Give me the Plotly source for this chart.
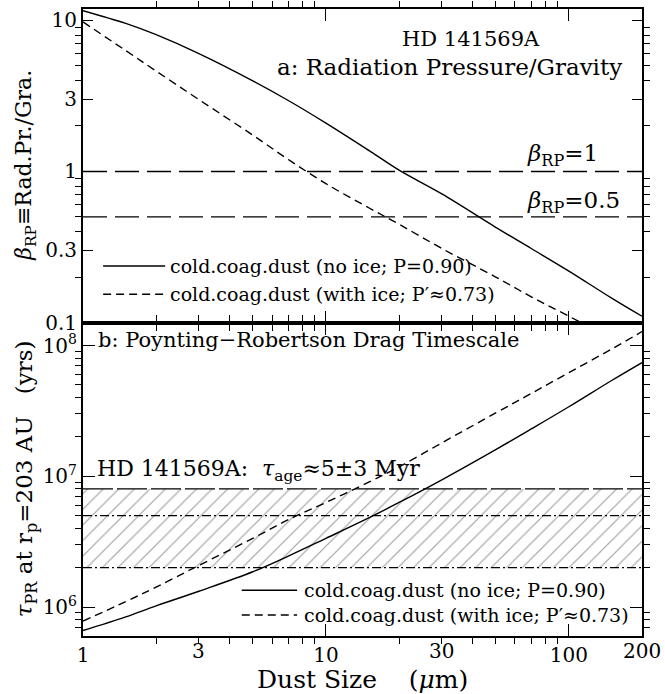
import numpy as np
import plotly.graph_objects as go
from plotly.subplots import make_subplots

# ---- data -------------------------------------------------------------
# dust grain sizes (micron) at which the curves are tabulated
size_um = [1, 1.5, 2, 3, 5, 7, 10, 15, 20, 30, 50, 70, 100, 150, 200]

# radiation pressure / gravity ratio
beta_noice = [11.6, 9.55, 8.04, 6.03, 3.98, 2.95, 2.09, 1.38, 1.02, 0.71,
              0.427, 0.309, 0.219, 0.145, 0.11]
beta_ice = [9.77, 6.31, 4.62, 2.99, 1.74, 1.2, 0.83, 0.575, 0.447, 0.309,
            0.2, 0.148, 0.11, 0.078, 0.06]

# Poynting-Robertson drag timescale (yr) at r_p = 203 AU
tau_noice = [6.6e5, 8.4e5, 1.02e6, 1.32e6, 1.86e6, 2.45e6, 3.35e6, 4.8e6,
             6.3e6, 9.4e6, 1.6e7, 2.3e7, 3.4e7, 5.4e7, 7.4e7]
tau_ice = [7.8e5, 1.1e6, 1.42e6, 2.08e6, 3.35e6, 4.65e6, 6.3e6, 9.0e6,
           1.18e7, 1.8e7, 3.05e7, 4.3e7, 6.2e7, 9.4e7, 1.28e8]

# reference levels
beta_levels = [1.0, 0.5]
age_low, age_mid, age_high = 2e6, 5e6, 8e6   # 5 +/- 3 Myr
size_span = [1, 200]

# axis ranges and ticks
x_range = [1, 200]
beta_range = [0.1, 11.9]
tau_range = [6e5, 1.5e8]
x_major = [1, 10, 100]
x_extra_labels = [3, 30, 200]
x_minor = [2, 3, 4, 5, 6, 7, 8, 9, 20, 30, 40, 50, 60, 70, 80, 90, 200]
beta_major = [0.1, 0.3, 1, 3, 10]
beta_minor = [0.2, 0.4, 0.5, 0.6, 0.7, 0.8, 0.9, 2, 4, 5, 6, 7, 8, 9]
tau_major = [1e6, 1e7, 1e8]
tau_minor = [m * 10 ** e for e in (5, 6, 7) for m in range(2, 10)]

FONT = "DejaVu Serif"
BLACK = "black"
TICK_SIZE = 20

fig = make_subplots(rows=2, cols=1, vertical_spacing=0)

# ---- panel a: beta ----------------------------------------------------
fig.add_trace(go.Scatter(x=size_um, y=beta_noice, mode="lines",
                         line=dict(color=BLACK, width=1.4, shape="spline"),
                         showlegend=False), row=1, col=1)
fig.add_trace(go.Scatter(x=size_um, y=beta_ice, mode="lines",
                         line=dict(color=BLACK, width=1.4, dash="8px,5px",
                                   shape="spline"),
                         showlegend=False), row=1, col=1)
for lvl in beta_levels:
    fig.add_trace(go.Scatter(x=size_span, y=[lvl, lvl], mode="lines",
                             line=dict(color=BLACK, width=1.4, dash="24px,8px"),
                             showlegend=False), row=1, col=1)

# ---- panel b: PR drag timescale --------------------------------------
fig.add_trace(go.Scatter(x=size_span, y=[age_high, age_high], mode="lines",
                         line=dict(color=BLACK, width=1.2, dash="30px,4px"),
                         showlegend=False), row=2, col=1)
fig.add_trace(go.Scatter(x=size_span, y=[age_low, age_low], mode="lines",
                         line=dict(color=BLACK, width=1.2,
                                   dash="9px,3px,2px,3px"),
                         fill="tonexty", fillcolor="rgba(0,0,0,0)",
                         fillpattern=dict(shape="/", fgcolor="black",
                                          fgopacity=0.38, size=11,
                                          solidity=0.1),
                         showlegend=False), row=2, col=1)
fig.add_trace(go.Scatter(x=size_span, y=[age_mid, age_mid], mode="lines",
                         line=dict(color=BLACK, width=1.2,
                                   dash="9px,3px,2px,3px"),
                         showlegend=False), row=2, col=1)
fig.add_trace(go.Scatter(x=size_um, y=tau_noice, mode="lines",
                         line=dict(color=BLACK, width=1.4, shape="spline"),
                         showlegend=False), row=2, col=1)
fig.add_trace(go.Scatter(x=size_um, y=tau_ice, mode="lines",
                         line=dict(color=BLACK, width=1.4, dash="8px,5px",
                                   shape="spline"),
                         showlegend=False), row=2, col=1)

# ---- axes ---------------------------------------------------------------
axis_common = dict(type="log", showline=True, linewidth=2, linecolor=BLACK,
                   mirror="ticks", ticks="inside", tickcolor=BLACK,
                   tickwidth=1.2, showgrid=False, zeroline=False,
                   tickfont=dict(family=FONT, size=TICK_SIZE, color=BLACK))

xticks = dict(tickmode="array", tickvals=x_major,
              ticktext=[str(v) for v in x_major], ticklen=12,
              minor=dict(tickmode="array", tickvals=x_minor, ticklen=6,
                         tickcolor=BLACK, tickwidth=1.2))
fig.update_xaxes(range=[np.log10(v) for v in x_range], **axis_common,
                 **xticks)
fig.update_xaxes(showticklabels=False, row=1, col=1)

fig.update_yaxes(range=[np.log10(v) for v in beta_range], tickmode="array",
                 tickvals=beta_major,
                 ticktext=[("%g" % v) for v in beta_major], ticklen=10,
                 minor=dict(tickmode="array", tickvals=beta_minor, ticklen=6,
                            tickcolor=BLACK, tickwidth=1.2),
                 **axis_common, row=1, col=1)
fig.update_yaxes(range=[np.log10(v) for v in tau_range], tickmode="array",
                 tickvals=tau_major,
                 ticktext=["10<sup>%d</sup>" % round(np.log10(v))
                           for v in tau_major], ticklen=12,
                 minor=dict(tickmode="array", tickvals=tau_minor, ticklen=6,
                            tickcolor=BLACK, tickwidth=1.2),
                 **axis_common, row=2, col=1)

# ---- text -----------------------------------------------------------------
def note(text, x, y, xref, yref, size, xanchor="left", **kw):
    fig.add_annotation(text=text, x=x, y=y, xref=xref, yref=yref,
                       showarrow=False, xanchor=xanchor, yanchor="middle",
                       font=dict(family=FONT, size=size, color=BLACK), **kw)

# extra x tick labels on the lower axis
for v in x_extra_labels:
    note(str(v), np.log10(v), 0, "x2", "paper", TICK_SIZE, xanchor="center",
         yshift=-15)

note("HD 141569A", 0.694, 0.905, "x domain", "y domain", 21, "center")
note("a: Radiation Pressure/Gravity", 0.968, 0.816, "x domain", "y domain",
     23, "right")
note("<i>β</i><sub>RP</sub>=1", 0.79, 0.535, "x domain", "y domain", 23)
note("<i>β</i><sub>RP</sub>=0.5", 0.79, 0.385, "x domain", "y domain", 23)

note("b: Poynting−Robertson Drag Timescale", 0.024, 0.943, "x2 domain",
     "y2 domain", 21)
note("HD 141569A:\u00a0 <i>τ</i><sub>age</sub>≈5±3 Myr", 0.022, 0.529,
     "x2 domain", "y2 domain", 22)

# legends: key lines and labels
legend_rows = [
    ("x domain", "y domain", 0.036, 0.147, 0.152, [0.18, 0.09]),
    ("x2 domain", "y2 domain", 0.284, 0.383, 0.392, [0.146, 0.067]),
]
legend_labels = ["cold.coag.dust (no ice; P=0.90)",
                 "cold.coag.dust (with ice; P′≈0.73)"]
legend_dash = ["solid", "8px,5px"]
for xref, yref, x0, x1, xt, rows in legend_rows:
    for ypos, label, dash in zip(rows, legend_labels, legend_dash):
        fig.add_shape(type="line", xref=xref, yref=yref, x0=x0, x1=x1,
                      y0=ypos, y1=ypos,
                      line=dict(color=BLACK, width=1.4, dash=dash))
        note(label, xt, ypos, xref, yref, 19)

# axis titles
note("<i>β</i><sub>RP</sub>≡Rad.Pr./Gra.", 0, 0.5, "paper", "y domain", 22,
     "center", textangle=-90, xshift=-57)
note("<i>τ</i><sub>PR</sub> at r<sub>p</sub>=203 AU\u00a0\u00a0\u00a0(yrs)",
     0, 0.5, "paper", "y2 domain", 23, "center", textangle=-90, xshift=-57)
note("Dust Size\u00a0\u00a0\u00a0\u00a0(<i>μ</i>m)", 0.5, 0, "x2 domain",
     "paper", 25, "center", yshift=-43)

fig.update_layout(width=665, height=694,
                  margin=dict(l=83, r=23, t=7, b=58, pad=0),
                  paper_bgcolor="white", plot_bgcolor="white",
                  font=dict(family=FONT, color=BLACK),
                  showlegend=False)

fig.write_html("out.html")
